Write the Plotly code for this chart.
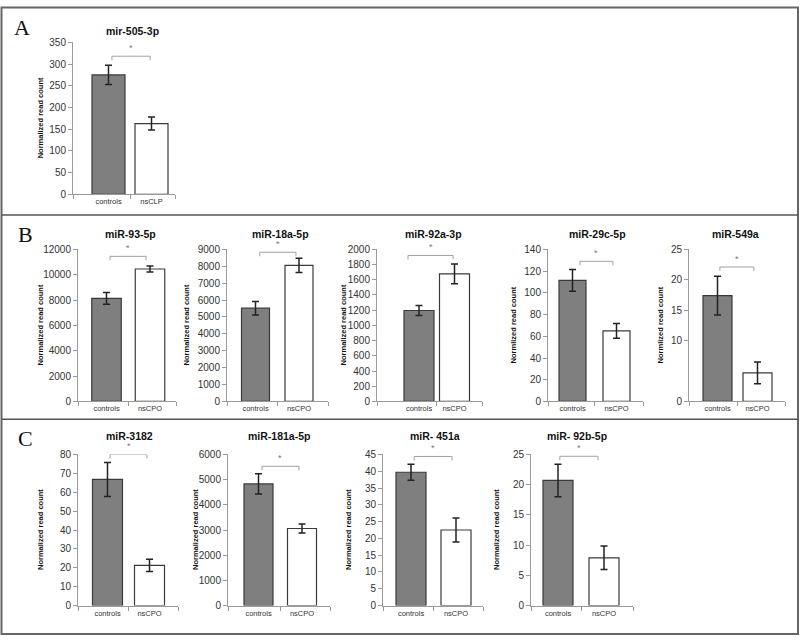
import plotly.graph_objects as go

# ---------------- data ----------------
titles = ["mir-505-3p", "miR-93-5p", "miR-18a-5p", "miR-92a-3p", "miR-29c-5p",
          "miR-549a", "miR-3182", "miR-181a-5p", "miR- 451a", "miR- 92b-5p"]
y_titles = ["Normalized read count"] * 4 + ["Normlized read count"] * 2 + ["Normalized read count"] * 4
control_label = "controls"
case_labels = ["nsCLP"] + ["nsCPO"] * 9
control_means = [275, 8130, 5520, 1196, 111.5, 17.4, 66.8, 4830, 39.7, 20.7]
control_err = [22, 465, 400, 65, 10, 3.2, 9.0, 400, 2.4, 2.7]
case_means = [163, 10450, 8050, 1677, 65, 4.7, 21.3, 3060, 22.5, 7.9]
case_err = [15, 230, 420, 130, 6.8, 1.8, 3.2, 180, 3.6, 1.95]
y_max = [350, 12000, 9000, 2000, 140, 25, 80, 6000, 45, 25]
y_ticks = [
    [0, 50, 100, 150, 200, 250, 300, 350],
    [0, 2000, 4000, 6000, 8000, 10000, 12000],
    [0, 1000, 2000, 3000, 4000, 5000, 6000, 7000, 8000, 9000],
    [0, 200, 400, 600, 800, 1000, 1200, 1400, 1600, 1800, 2000],
    [0, 20, 40, 60, 80, 100, 120, 140],
    [0, 10, 15, 20, 25],
    [0, 10, 20, 30, 40, 50, 60, 70, 80],
    [0, 1000, 2000, 3000, 4000, 5000, 6000],
    [0, 5, 10, 15, 20, 25, 30, 35, 40, 45],
    [0, 5, 10, 15, 20, 25],
]
sig_marks = ["*"] * 10
panel_letters = ["A", "B", "C"]

# ---------------- layout geometry (pixels) ----------------
W, H = 800, 642
# (axis start x, axis end x, controls centre, case centre, bar width px, row)
geom = [
    (73, 175, 108.5, 151.5, 33, 0),
    (78, 176, 106.5, 150.0, 29.5, 1),
    (227, 328, 255.5, 299.0, 28, 1),
    (377, 482, 419.0, 454.5, 30, 1),
    (548, 643, 572.5, 616.5, 27, 1),
    (689, 785, 717.5, 757.5, 29, 1),
    (78, 178, 107.5, 149.5, 30, 2),
    (228, 330, 258.5, 302.0, 29, 2),
    (383, 483, 411.0, 456.0, 30, 2),
    (531, 633, 558.0, 604.0, 30, 2),
]
row_y = [(37, 192), (248, 403), (457, 611)]          # (top px, zero px)
title_pos = [(132, 25), (130, 232), (280, 232), (433, 232), (597, 232), (735, 232),
             (129, 438), (279, 438), (435, 438), (577, 438)]
ytitle_x = [40, 40, 186, 343, 513, 660, 40, 195, 348, 496]
bracket_y = [318, 11450, 8830, 1920, 129, 22.1, 80, 5530, 44.4, 24.7]
bracket_x = [(0.08, 0.97), (0.08, 0.91), (0.1, 0.93), (-0.31, 0.96), (0.17, 0.92),
             (0.06, 0.91), (0.06, 0.94), (0.08, 0.93), (0.07, 0.91), (0.04, 0.87)]
letter_pos = [(22, 22), (25, 233), (25, 441)]
panel_lines = [213, 421]

FONT = "Liberation Sans, Arial, sans-serif"
AXIS_COLOR = "#9a9a9a"
TEXT_COLOR = "#333333"

fig = go.Figure()
layout = dict(
    width=W, height=H, margin=dict(l=0, r=0, t=0, b=0),
    paper_bgcolor="white", plot_bgcolor="white", showlegend=False,
    font=dict(family=FONT, color=TEXT_COLOR),
)
shapes = []
annotations = []

for i in range(10):
    xs, xe, c0, c1, bw, row = geom[i]
    unit = c1 - c0
    lo = (xs - c0) / unit
    hi = (xe - c0) / unit
    ytop, yzero = row_y[row]
    n = "" if i == 0 else str(i + 1)
    xa, ya = "x" + n, "y" + n

    fig.add_trace(go.Bar(
        x=[0, 1], y=[control_means[i], case_means[i]],
        width=bw / unit,
        marker=dict(color=["#7f7f7f", "#ffffff"], line=dict(color="#3a3a3a", width=1.2)),
        error_y=dict(type="data", array=[control_err[i], case_err[i]],
                     color="#222222", thickness=1.5, width=3.5),
        xaxis=xa, yaxis=ya, hoverinfo="skip",
    ))

    layout["xaxis" + n] = dict(
        domain=[xs / W, xe / W], range=[lo, hi], anchor=ya,
        showgrid=False, zeroline=False, showline=True, linecolor=AXIS_COLOR, linewidth=1,
        tickmode="array", tickvals=[0, 1], ticktext=[control_label, case_labels[i]],
        ticks="", tickfont=dict(size=7.5, color=TEXT_COLOR, family=FONT),
        minor=dict(tickmode="array", tickvals=[lo, 0.5, hi], ticks="outside",
                   ticklen=4, tickcolor=AXIS_COLOR, tickwidth=1),
        fixedrange=True,
    )
    layout["yaxis" + n] = dict(
        domain=[1 - yzero / H, 1 - ytop / H], range=[0, y_max[i]], anchor=xa,
        showgrid=False, zeroline=False, showline=True, linecolor=AXIS_COLOR, linewidth=1,
        tickmode="array", tickvals=y_ticks[i], ticktext=[str(v) for v in y_ticks[i]],
        ticks="outside", ticklen=4,
        tickcolor=AXIS_COLOR, tickfont=dict(size=10, color=TEXT_COLOR, family=FONT),
        fixedrange=True,
    )

    # title
    tx, ty = title_pos[i]
    annotations.append(dict(text="<b>" + titles[i] + "</b>", x=tx / W, y=1 - ty / H,
                            xref="paper", yref="paper", showarrow=False,
                            xanchor="center", yanchor="middle",
                            font=dict(size=10.5, color="#111111", family=FONT)))
    # y-axis title
    annotations.append(dict(text="<b>" + y_titles[i] + "</b>", x=ytitle_x[i] / W,
                            y=1 - (ytop + yzero) / 2 / H, xref="paper", yref="paper",
                            showarrow=False, textangle=-90, xanchor="center", yanchor="middle",
                            font=dict(size=7.5, color="#111111", family=FONT)))
    # significance bracket
    bx0, bx1 = bracket_x[i]
    by = bracket_y[i]
    shapes.append(dict(type="line", xref=xa, yref=ya, x0=bx0, x1=bx1, y0=by, y1=by,
                       line=dict(color="#a0a0a0", width=1)))
    for bx in (bx0, bx1):
        shapes.append(dict(type="line", xref=xa, yref=ya, x0=bx, x1=bx,
                           ysizemode="pixel", yanchor=by, y0=-4, y1=0,
                           line=dict(color="#a0a0a0", width=1)))
    annotations.append(dict(text=sig_marks[i], x=(bx0 + bx1) / 2, y=by, xref=xa, yref=ya,
                            showarrow=False, yanchor="bottom", yshift=1,
                            font=dict(size=9, color="#777777", family=FONT)))

# panel letters
for k, (lx, ly) in enumerate(letter_pos):
    annotations.append(dict(text=panel_letters[k], x=lx / W, y=1 - ly / H,
                            xref="paper", yref="paper", showarrow=False,
                            xanchor="center", yanchor="middle",
                            font=dict(size=22, color="#111111",
                                      family="Liberation Serif, Times New Roman, serif")))

# panel borders
shapes.append(dict(type="rect", xref="paper", yref="paper", x0=1.5 / W, x1=798 / W,
                   y0=1 - 640 / H, y1=1 - 1.5 / H, line=dict(color="#666666", width=2)))
for py in panel_lines:
    shapes.append(dict(type="line", xref="paper", yref="paper", x0=1.5 / W, x1=798 / W,
                       y0=1 - py / H, y1=1 - py / H, line=dict(color="#555555", width=1.5)))

layout["shapes"] = shapes
layout["annotations"] = annotations
fig.update_layout(**layout)
fig.write_html("out.html", config={"displayModeBar": False},
               post_script="document.body.style.margin='0';document.body.style.overflow='hidden';")
